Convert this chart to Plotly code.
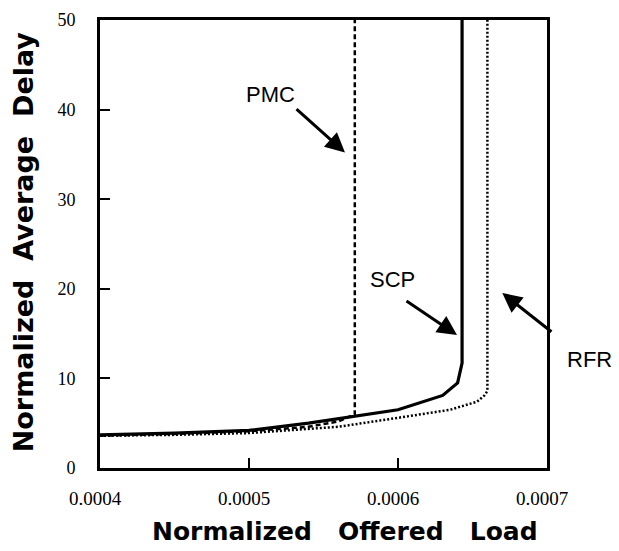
import plotly.graph_objects as go

# ---- data ----
x_ticks = [0.0004, 0.0005, 0.0006, 0.0007]
x_tick_labels = ["0.0004", "0.0005", "0.0006", "0.0007"]
y_ticks = [0, 10, 20, 30, 40, 50]
y_tick_labels = ["0", "10", "20", "30", "40", "50"]

pmc_x = [0.0004, 0.00045, 0.0005, 0.00054, 0.00056, 0.000571, 0.000571]
pmc_y = [3.6, 3.8, 4.1, 4.6, 5.2, 6.0, 50]

scp_x = [0.0004, 0.00045, 0.0005, 0.00054, 0.0006, 0.00063, 0.00064, 0.000643, 0.000643]
scp_y = [3.7, 3.9, 4.2, 5.0, 6.5, 8.1, 9.5, 11.7, 50]

rfr_x = [0.0004, 0.00045, 0.0005, 0.00054, 0.00056, 0.0006, 0.000635, 0.000653, 0.000658, 0.00066, 0.00066]
rfr_y = [3.6, 3.7, 3.9, 4.4, 4.6, 5.6, 6.5, 7.4, 8.1, 8.6, 50]

fig = go.Figure()
fig.add_trace(go.Scatter(x=pmc_x, y=pmc_y, mode="lines", name="PMC",
                         line=dict(color="black", width=2.5, dash="5px,3px")))
fig.add_trace(go.Scatter(x=rfr_x, y=rfr_y, mode="lines", name="RFR",
                         line=dict(color="black", width=2.5, dash="2px,2px")))
fig.add_trace(go.Scatter(x=scp_x, y=scp_y, mode="lines", name="SCP",
                         line=dict(color="black", width=3.2)))

lab_font = dict(family="Liberation Sans, Arial, sans-serif", size=22, color="black")
xtitle_font = dict(family="DejaVu Sans, sans-serif", size=25, color="black", weight="bold")
ytitle_font = dict(family="DejaVu Sans, sans-serif", size=27, color="black", weight="bold")

arrow_style = dict(xref="x", yref="y", axref="x", ayref="y", text="", showarrow=True,
                   arrowhead=2, arrowsize=1.3, arrowwidth=3, arrowcolor="black", standoff=0)

annotations = [
    # labels
    dict(x=0.0005141, y=41.7, xref="x", yref="y", text="PMC", showarrow=False, font=lab_font),
    dict(x=0.0005966, y=21.0, xref="x", yref="y", text="SCP", showarrow=False, font=lab_font),
    dict(x=1.096, y=0.243, xref="paper", yref="paper", text="RFR", showarrow=False, font=lab_font,
         xanchor="center", yanchor="middle"),
    # arrows
    dict(x=0.0005644, y=35.2, ax=0.0005309, ay=40.2, **arrow_style),
    dict(x=0.0006396, y=14.84, ax=0.0006047, ay=18.75, **arrow_style),
    dict(x=0.00067, y=19.53, ax=0.000704, ay=15.07, **arrow_style),
    # axis titles
    dict(x=0.548, y=-0.141, xref="paper", yref="paper", showarrow=False,
         xanchor="center", yanchor="middle",
         text="Normalized\u00a0\u00a0 Offered\u00a0\u00a0 Load", font=xtitle_font),
    dict(x=-0.172, y=0.504, xref="paper", yref="paper", showarrow=False, textangle=-90,
         xanchor="center", yanchor="middle",
         text="Normalized\u00a0 Average\u00a0 Delay", font=ytitle_font),
]

fig.update_layout(
    width=611, height=543,
    margin=dict(l=92, r=72, t=12, b=83),
    paper_bgcolor="white", plot_bgcolor="white",
    showlegend=False,
    annotations=annotations,
    xaxis=dict(range=[0.0004, 0.0007], tickvals=x_ticks, ticktext=x_tick_labels,
               automargin=False,
               showgrid=False, zeroline=False, showline=True, linecolor="black", linewidth=3,
               mirror=True, ticks="inside", ticklen=10, tickwidth=2, tickcolor="black",
               tickfont=dict(family="Liberation Serif, Times New Roman, serif", size=19, color="black"),
               ticklabelstandoff=11, ticklabelshift=-5),
    yaxis=dict(range=[0, 50], tickvals=y_ticks, ticktext=y_tick_labels,
               automargin=False,
               showgrid=False, zeroline=False, showline=True, linecolor="black", linewidth=3,
               mirror=True, ticks="inside", ticklen=10, tickwidth=2, tickcolor="black",
               tickfont=dict(family="Liberation Serif, Times New Roman, serif", size=18, color="black"),
               ticklabelstandoff=18),
)

fig.write_html("out.html")
